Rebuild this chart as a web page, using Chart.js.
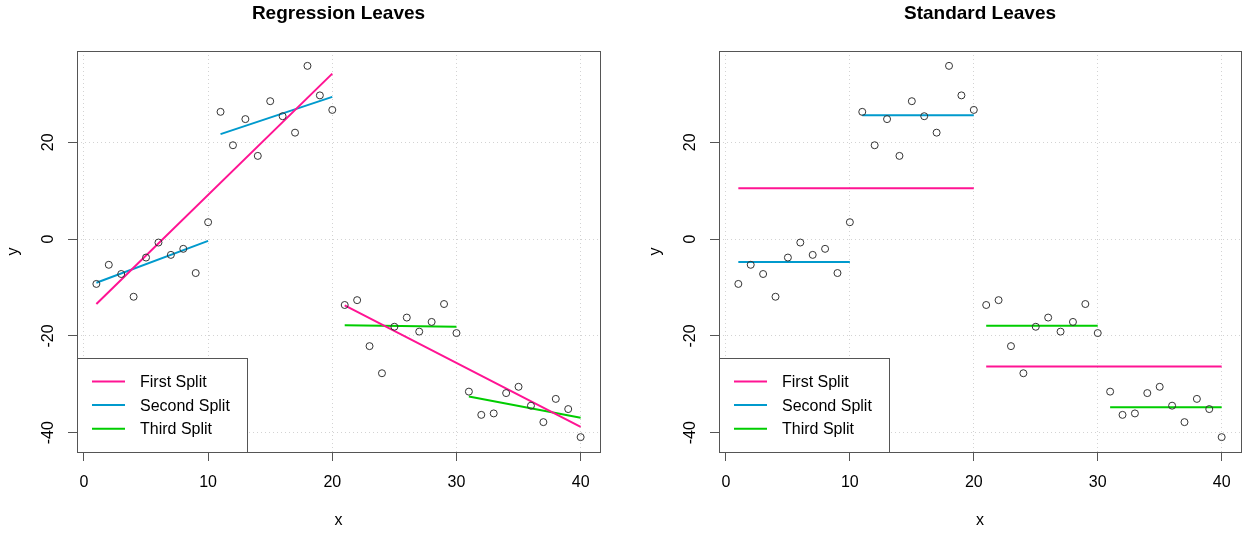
<!DOCTYPE html>
<html>
<head>
<meta charset="utf-8">
<script src="https://cdn.jsdelivr.net/npm/chart.js@4"></script>
<style>
  body { margin: 0; background: #fff; }
  #wrap { position: relative; width: 1246px; height: 534px; }
  canvas { position: absolute; top: 0; }
</style>
</head>
<body>
<div id="wrap">
  <canvas id="regChart" width="642" height="534" style="left:0"></canvas>
  <canvas id="stdChart" width="604" height="534" style="left:642px"></canvas>
</div>
<script>
// x positions of the observations
const xValues = [1, 2, 3, 4, 5, 6, 7, 8, 9, 10,
                 11, 12, 13, 14, 15, 16, 17, 18, 19, 20,
                 21, 22, 23, 24, 25, 26, 27, 28, 29, 30,
                 31, 32, 33, 34, 35, 36, 37, 38, 39, 40];
const yValues = [-9.25, -5.3, -7.2, -11.9, -3.8, -0.7, -3.25, -2.0, -7.0, 3.5,
                 26.3, 19.4, 24.8, 17.2, 28.5, 25.4, 22.0, 35.8, 29.7, 26.7,
                 -13.6, -12.6, -22.1, -27.7, -18.1, -16.2, -19.1, -17.1, -13.4, -19.4,
                 -31.5, -36.3, -36.0, -31.8, -30.5, -34.4, -37.8, -33.0, -35.1, -40.9];

// fitted segments, each pair of points is one leaf: [x, y]
const regFirst  = [[1, -13.4], [20, 34.2], [21, -13.7], [40, -38.8]];
const regSecond = [[1, -9.0], [10, -0.35], [11, 21.7], [20, 29.4]];
const regThird  = [[21, -17.8], [30, -18.1], [31, -32.5], [40, -36.9]];

const stdFirst  = [[1, 10.5], [20, 10.5], [21, -26.3], [40, -26.3]];
const stdSecond = [[1, -4.7], [10, -4.7], [11, 25.6], [20, 25.6]];
const stdThird  = [[21, -17.9], [30, -17.9], [31, -34.7], [40, -34.7]];

const splitLabels = ['First Split', 'Second Split', 'Third Split'];
const splitColors = ['#FF1493', '#009ACD', '#00CD00'];

const FONT = "'Liberation Sans', Arial, sans-serif";
Chart.defaults.font.family = FONT;
Chart.defaults.color = '#000';

// turn pairs of points into line data with a gap between segments
function toSegments(pairs) {
    const out = [];
    for (let i = 0; i < pairs.length; i += 2) {
        out.push({x: pairs[i][0], y: pairs[i][1]});
        out.push({x: pairs[i + 1][0], y: pairs[i + 1][1]});
        out.push({x: pairs[i + 1][0] + 0.5, y: null});
    }
    return out;
}

// box legend in the bottom-left corner, like R's legend("bottomleft")
const legendBox = {
    id: 'legendBox',
    afterDatasetsDraw(chart) {
        const {ctx, chartArea} = chart;
        const items = chart.data.datasets.filter(d => d.showLine);
        const w = 170, h = 94;
        const left = chartArea.left, top = chartArea.bottom - h;
        ctx.save();
        ctx.fillStyle = '#fff';
        ctx.fillRect(left, top, w, h);
        ctx.strokeStyle = '#555';
        ctx.lineWidth = 1;
        ctx.strokeRect(left + 0.5, top + 0.5, w, h);
        ctx.font = '16px ' + FONT;
        ctx.textBaseline = 'middle';
        items.forEach((d, i) => {
            const y = top + 23.5 + i * 23.6;
            ctx.strokeStyle = d.borderColor;
            ctx.lineWidth = 2;
            ctx.beginPath();
            ctx.moveTo(left + 15, y);
            ctx.lineTo(left + 48, y);
            ctx.stroke();
            ctx.fillStyle = '#000';
            ctx.fillText(d.label, left + 63, y + 1);
        });
        ctx.restore();
    }
};

// plot frame
const frameBox = {
    id: 'frameBox',
    afterDraw(chart) {
        const {ctx, chartArea} = chart;
        ctx.save();
        ctx.strokeStyle = '#555';
        ctx.lineWidth = 1;
        ctx.strokeRect(chartArea.left + 0.5, chartArea.top + 0.5, chartArea.width, chartArea.height);
        ctx.restore();
    }
};

function makeChart(canvasId, title, lines, rightPad) {
    const points = xValues.map((x, i) => ({x: x, y: yValues[i]}));
    const datasets = [{
        label: 'obs',
        data: points,
        showLine: false,
        pointStyle: 'circle',
        pointRadius: 3.5,
        pointBorderWidth: 1,
        pointBorderColor: '#333',
        pointBackgroundColor: 'rgba(0,0,0,0)'
    }];
    lines.forEach((pairs, i) => {
        datasets.push({
            label: splitLabels[i],
            data: toSegments(pairs),
            showLine: true,
            spanGaps: false,
            borderColor: splitColors[i],
            borderWidth: 2,
            pointRadius: 0,
            tension: 0
        });
    });

    const ctx = document.getElementById(canvasId).getContext('2d');
    return new Chart(ctx, {
        type: 'scatter',
        data: { datasets: datasets },
        options: {
            responsive: false,
            animation: false,
            events: [],
            layout: { padding: { left: 0, right: rightPad, top: 0, bottom: 0 } },
            plugins: {
                legend: { display: false },
                tooltip: { enabled: false },
                title: {
                    display: true,
                    fullSize: false,
                    text: title,
                    color: '#000',
                    font: { size: 19, weight: 'bold' },
                    padding: { top: 2.6, bottom: 25.6 }
                }
            },
            scales: {
                x: {
                    type: 'linear',
                    min: -0.56,
                    max: 41.56,
                    afterFit: s => { s.height = 82; },
                    border: { display: false, dash: [1, 3] },
                    grid: { color: '#d3d3d3', tickColor: '#555', tickLength: 9 },
                    ticks: { stepSize: 10, includeBounds: false, autoSkip: false, padding: 11.5, font: { size: 16 }, color: '#000' },
                    title: { display: true, text: 'x', font: { size: 16 }, color: '#000', padding: { top: 0, bottom: 3.5 } }
                },
                y: {
                    type: 'linear',
                    min: -43.97,
                    max: 38.87,
                    afterFit: s => { s.width = 77; },
                    border: { display: false, dash: [1, 3] },
                    grid: { color: '#d3d3d3', tickColor: '#555', tickLength: 9 },
                    ticks: { stepSize: 20, includeBounds: false, autoSkip: false, padding: 8, minRotation: 90, maxRotation: 90, crossAlign: 'center', font: { size: 16 }, color: '#000' },
                    title: { display: true, text: 'y', font: { size: 16 }, color: '#000', padding: { top: 3.5, bottom: 0 } }
                }
            }
        },
        plugins: [legendBox, frameBox]
    });
}

makeChart('regChart', 'Regression Leaves', [regFirst, regSecond, regThird], 42);
makeChart('stdChart', 'Standard Leaves', [stdFirst, stdSecond, stdThird], 3);
</script>
</body>
</html>
